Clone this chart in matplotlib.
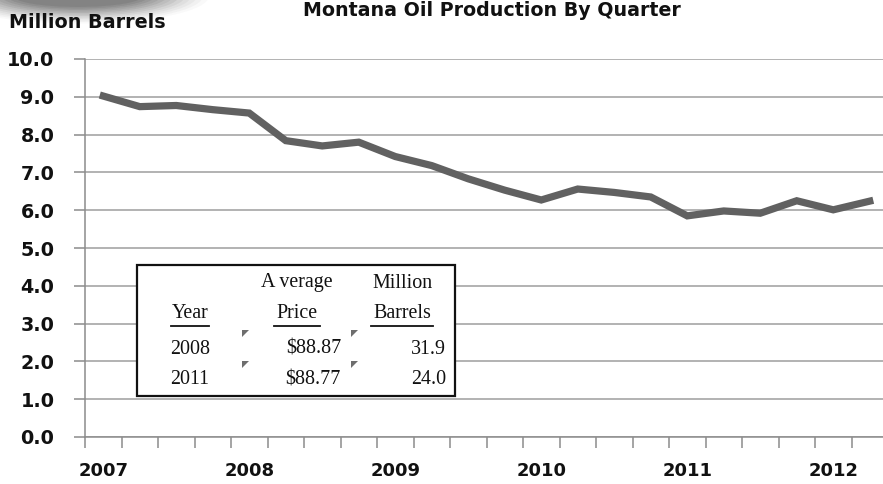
import matplotlib.pyplot as plt
import numpy as np
from matplotlib.patches import Rectangle, Polygon, Ellipse
from matplotlib.lines import Line2D

# quarterly production, million barrels, 2007 Q1 .. 2012 Q2
quarters = ['2007', '', '', '', '2008', '', '', '', '2009', '', '', '', '2010', '', '', '',
            '2011', '', '', '', '2012', '']
production = [9.02, 8.74, 8.77, 8.66, 8.57, 7.84, 7.70, 7.80, 7.42, 7.18, 6.83,
              6.53, 6.27, 6.56, 6.47, 6.35, 5.85, 5.98, 5.92, 6.25, 6.01, 6.24]

# summary box contents
box_years = ['2008', '2011']
box_prices = ['$88.87', '$88.77']
box_barrels = ['31.9', '24.0']

W, H = 883, 484
fig = plt.figure(figsize=(W / 100, H / 100), dpi=100)


def fx(px):
    return px / W


def fy(py):
    return 1 - py / H


ax = fig.add_axes([fx(85), fy(437), fx(888) - fx(85), fy(59) - fy(437)])
x = np.arange(len(production))
ax.plot(x, production, color='#616161', lw=5.2, solid_joinstyle='miter', zorder=3)

ax.set_xlim(-0.5, len(production) - 0.5)
ax.set_ylim(0, 10)
ax.set_yticks(np.arange(0, 10.5, 1))
ax.set_yticklabels([f'{v:.1f}' for v in np.arange(0, 10.5, 1)])
ax.yaxis.grid(True, color='#a6a6a6', lw=1.2)
ax.set_axisbelow(True)

ax.set_xticks(x[::4])
ax.set_xticklabels(quarters[::4])
ax.set_xticks(np.arange(-0.5, len(production), 1), minor=True)
ax.tick_params(axis='x', which='major', length=0, pad=18)
ax.tick_params(axis='x', which='minor', length=8, color='#8c8c8c', width=1.1)
ax.tick_params(axis='y', length=8, color='#8c8c8c', width=1.1, pad=14)

for side in ('top', 'right'):
    ax.spines[side].set_visible(False)
for side in ('left', 'bottom'):
    ax.spines[side].set_color('#8c8c8c')
    ax.spines[side].set_linewidth(1.1)

for lab in ax.get_xticklabels() + ax.get_yticklabels():
    lab.set_fontfamily('DejaVu Sans')
    lab.set_fontweight('bold')
    lab.set_fontsize(13)
    lab.set_color('#111111')
for lab in ax.get_yticklabels():
    lab.set_fontsize(13.8)

fig.text(fx(9), fy(23), 'Million Barrels', family='DejaVu Sans', weight='bold',
         fontsize=13.8, va='center', ha='left', color='#111111')
fig.text(fx(492), fy(10), 'Montana Oil Production By Quarter', family='DejaVu Sans',
         weight='bold', fontsize=13.7, va='center', ha='center', color='#111111')

# soft gray smudge in the top-left corner
for i, a in enumerate(np.linspace(0.14, 0.03, 12)):
    fig.add_artist(Ellipse((fx(78), fy(-4)), fx(130 + 12 * i), (22 + 3 * i) / H,
                           transform=fig.transFigure, color='#4a4a4a', alpha=a, lw=0))

# summary box
fig.add_artist(Rectangle((fx(137), fy(396)), fx(455) - fx(137), fy(265) - fy(396),
                         transform=fig.transFigure, facecolor='white',
                         edgecolor='#111111', lw=1.6, zorder=5))

serif = dict(family='Liberation Serif', fontsize=14.4, color='#111111', zorder=6,
             va='center')
fig.text(fx(297), fy(283), 'A verage', ha='center', **serif)
fig.text(fx(402), fy(283), 'Million', ha='center', **serif)
for label, cx, half in (('Year', 190, 19), ('Price', 297, 23), ('Barrels', 402, 31)):
    fig.text(fx(cx), fy(314), label, ha='center', **serif)
    fig.add_artist(Line2D([fx(cx - half), fx(cx + half)], [fy(326), fy(326)],
                          transform=fig.transFigure, color='#111111', lw=1.3, zorder=6))

for yr, price, bbl, py in zip(box_years, box_prices, box_barrels, (349, 380)):
    fig.text(fx(170), fy(py), yr, ha='left', **serif)
    fig.text(fx(341), fy(py), price, ha='right', **serif)
    fig.text(fx(446), fy(py), bbl, ha='right', **serif)
    # small cell marker triangles
    for tx in (242, 351):
        ty = py - 19
        fig.add_artist(Polygon([(fx(tx), fy(ty)), (fx(tx + 7), fy(ty)), (fx(tx), fy(ty + 7))],
                               closed=True, transform=fig.transFigure,
                               color='#6e6e6e', lw=0, zorder=6))

fig.savefig('out.png', dpi=100)
